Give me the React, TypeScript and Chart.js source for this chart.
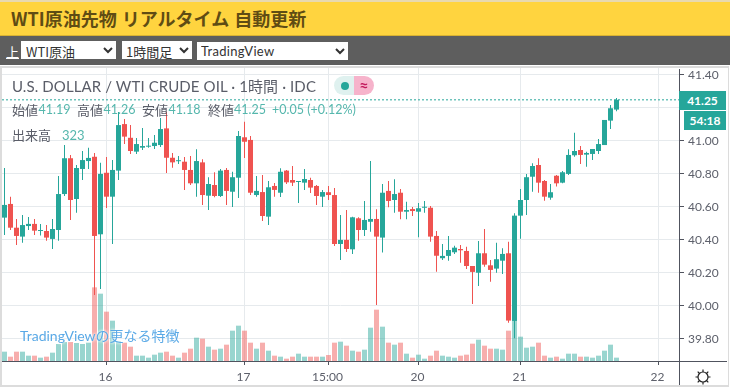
import React, { useEffect, useRef } from "react";
import { Chart, registerables } from "chart.js";

Chart.register(...registerables);

const opens = [
  40.531, 40.614, 40.470, 40.416, 40.480, 40.493, 40.450, 40.450, 40.402, 40.456,
  40.674, 40.891, 40.644, 40.826, 40.874, 40.900, 40.430, 40.803, 40.658, 40.816,
  41.098, 41.015, 40.931, 40.955, 40.961, 40.965, 40.971, 41.072, 40.894, 40.873,
  40.870, 40.820, 40.739, 40.866, 40.664, 40.729, 40.662, 40.820, 40.688, 40.773,
  41.018, 41.002, 40.668, 40.686, 40.537, 40.723, 40.682, 40.816, 40.759, 40.747,
  40.743, 40.759, 40.723, 40.658, 40.685, 40.668, 40.371, 40.396, 40.339, 40.527,
  40.456, 40.506, 40.523, 40.410, 40.693, 40.638, 40.682, 40.567, 40.583, 40.567,
  40.591, 40.591, 40.420, 40.285, 40.299, 40.321, 40.341, 40.329, 40.238, 40.197,
  40.315, 40.242, 40.222, 40.270, 40.315, 39.905, 40.543, 40.638, 40.779, 40.850,
  40.753, 40.652, 40.785, 40.743, 40.796, 40.909, 40.941, 40.913, 40.917, 40.935,
  40.971, 41.119, 41.186,
];
const closes = [
  40.608, 40.470, 40.420, 40.486, 40.493, 40.452, 40.456, 40.410, 40.462, 40.674,
  40.891, 40.638, 40.832, 40.880, 40.893, 40.420, 40.796, 40.658, 40.820, 41.092,
  41.022, 40.935, 40.977, 40.965, 40.967, 40.985, 41.068, 40.894, 40.866, 40.876,
  40.820, 40.739, 40.874, 40.668, 40.735, 40.662, 40.816, 40.693, 40.776, 41.026,
  40.991, 40.682, 40.693, 40.541, 40.715, 40.699, 40.809, 40.745, 40.743, 40.753,
  40.765, 40.713, 40.662, 40.686, 40.668, 40.371, 40.396, 40.341, 40.533, 40.456,
  40.517, 40.523, 40.416, 40.682, 40.632, 40.674, 40.567, 40.577, 40.571, 40.588,
  40.597, 40.416, 40.300, 40.299, 40.335, 40.349, 40.333, 40.238, 40.202, 40.315,
  40.246, 40.214, 40.279, 40.311, 39.907, 40.543, 40.638, 40.776, 40.844, 40.743,
  40.658, 40.685, 40.739, 40.806, 40.911, 40.935, 40.911, 40.923, 40.947, 40.977,
  41.123, 41.194, 41.245,
];
const highs = [
  40.832, 40.658, 40.523, 40.547, 40.535, 40.523, 40.493, 40.486, 40.523, 40.783,
  40.971, 40.911, 40.850, 40.935, 40.955, 40.923, 40.864, 40.899, 40.880, 41.171,
  41.129, 41.092, 41.014, 41.074, 41.014, 41.032, 41.135, 41.173, 40.923, 40.905,
  40.899, 40.905, 40.945, 40.885, 40.776, 40.806, 40.826, 40.832, 40.809, 41.056,
  41.112, 41.026, 40.783, 40.789, 40.753, 40.741, 40.830, 40.820, 40.844, 40.753,
  40.826, 40.773, 40.729, 40.699, 40.723, 40.711, 40.547, 40.577, 40.537, 40.533,
  40.632, 40.874, 40.582, 40.735, 40.753, 40.763, 40.705, 40.628, 40.596, 40.620,
  40.632, 40.602, 40.450, 40.371, 40.420, 40.361, 40.365, 40.355, 40.238, 40.389,
  40.462, 40.274, 40.379, 40.345, 40.385, 40.557, 40.705, 40.795, 40.860, 40.891,
  40.759, 40.735, 40.789, 40.814, 40.945, 41.046, 40.965, 40.931, 40.947, 41.008,
  41.123, 41.214, 41.256,
];
const lows = [
  40.426, 40.456, 40.365, 40.379, 40.456, 40.426, 40.422, 40.391, 40.341, 40.391,
  40.662, 40.517, 40.561, 40.759, 40.826, 40.062, 40.099, 40.590, 40.371, 40.759,
  40.977, 40.917, 40.917, 40.941, 40.955, 40.947, 40.959, 40.802, 40.834, 40.856,
  40.699, 40.729, 40.658, 40.608, 40.577, 40.654, 40.656, 40.608, 40.596, 40.650,
  40.893, 40.668, 40.658, 40.511, 40.486, 40.658, 40.656, 40.735, 40.723, 40.620,
  40.699, 40.680, 40.608, 40.596, 40.638, 40.359, 40.274, 40.323, 40.311, 40.391,
  40.420, 40.446, 40.002, 40.319, 40.594, 40.561, 40.521, 40.521, 40.541, 40.412,
  40.561, 40.385, 40.203, 40.274, 40.270, 40.311, 40.258, 40.220, 40.008, 40.117,
  40.234, 40.143, 40.197, 40.189, 39.894, 39.800, 40.403, 40.547, 40.688, 40.682,
  40.634, 40.640, 40.719, 40.739, 40.789, 40.900, 40.856, 40.840, 40.880, 40.917,
  40.971, 41.068, 41.176,
];
const volumes = [
  896, 416, 896, 896, 512, 512, 320, 416, 800, 1632,
  1824, 1824, 1728, 1632, 1760, 7072, 6464, 4736, 3872, 1888,
  1760, 1376, 512, 512, 320, 608, 800, 896, 512, 320,
  800, 1184, 2240, 2144, 1376, 1088, 1184, 1568, 2912, 3392,
  2912, 1760, 1184, 1760, 992, 512, 416, 224, 416, 704,
  416, 416, 416, 416, 576, 1760, 1856, 1472, 992, 896,
  1088, 3200, 4928, 3296, 1760, 1568, 1760, 704, 320, 608,
  224, 512, 992, 512, 416, 320, 512, 608, 1664, 2048,
  1472, 1184, 1184, 1088, 2912, 4000, 2336, 1280, 1376, 1760,
  512, 320, 416, 224, 704, 704, 416, 416, 320, 512,
  992, 1568, 323,
];

const xTickIndexes = [17, 40, 54, 69, 86, 109];
const xTickLabels = ["16", "17", "15:00", "20", "21", "22"];
const hiddenPriceTicks = ["41.20"];

const TEAL = "#26a69a";
const RED = "#ef5350";
const TEAL_SOFT = "rgba(38,166,154,0.47)";
const RED_SOFT = "rgba(239,83,80,0.47)";
const GRID = "#e6eaed";
const AXIS = "#50535e";
const LABEL = "#5d606b";
const UI_FONT = '"Lato", "Noto Sans CJK JP", sans-serif';
const CJK_FONT = '"Noto Sans CJK JP", sans-serif';

const indexes = opens.map((_, i) => i);
const isUp = (i: number) => closes[i] >= opens[i];
const X_MIN = -0.4167;
const X_MAX = 112.4167;

const pos = (left: number, top: number, extra: React.CSSProperties = {}): React.CSSProperties => ({
  position: "absolute",
  left,
  top,
  whiteSpace: "nowrap",
  ...extra,
});

export default function App() {
  const ref = useRef<HTMLCanvasElement | null>(null);

  useEffect(() => {
    document.body.style.margin = "0";
    document.body.style.overflow = "hidden";
    const canvas = ref.current;
    if (!canvas) return;
    const last = closes[closes.length - 1];
    const chart = new Chart(canvas, {
      type: "bar",
      data: {
        datasets: [
          {
            type: "line",
            data: [
              { x: X_MIN, y: last },
              { x: X_MAX, y: last },
            ],
            borderColor: TEAL,
            borderWidth: 1,
            borderDash: [2, 2],
            pointRadius: 0,
            order: 1,
          },
          {
            data: indexes.map((i) => ({ x: i, y: [opens[i], closes[i]] })),
            backgroundColor: indexes.map((i) => (isUp(i) ? TEAL : RED)),
            barThickness: 5,
            grouped: false,
            minBarLength: 1,
            inflateAmount: 0,
            order: 2,
          },
          {
            data: indexes.map((i) => ({ x: i, y: [lows[i], highs[i]] })),
            backgroundColor: indexes.map((i) => (isUp(i) ? TEAL : RED)),
            barThickness: 1,
            grouped: false,
            inflateAmount: 0,
            order: 3,
          },
          {
            data: indexes.map((i) => ({ x: i, y: volumes[i] })),
            backgroundColor: indexes.map((i) => (isUp(i) ? TEAL_SOFT : RED_SOFT)),
            barThickness: 5,
            grouped: false,
            inflateAmount: 0,
            yAxisID: "vol",
            order: 4,
          },
        ],
      } as any,
      options: {
        responsive: false,
        animation: false,
        devicePixelRatio: 1,
        events: [],
        layout: { padding: { top: 68, left: 2, right: 0, bottom: 0 } },
        plugins: { legend: { display: false }, tooltip: { enabled: false } },
        scales: {
          x: {
            type: "linear",
            min: X_MIN,
            max: X_MAX,
            offset: false,
            afterBuildTicks: (s: any) => {
              s.ticks = xTickIndexes.map((v) => ({ value: v }));
            },
            afterFit: (s: any) => {
              s.height = 28;
            },
            grid: { color: GRID, offset: false, tickColor: AXIS, tickLength: 4 },
            border: { display: false },
            ticks: {
              autoSkip: false,
              maxRotation: 0,
              padding: 5,
              labelOffset: -1,
              color: LABEL,
              font: { family: UI_FONT, size: 12 },
              callback: (v: any) => {
                const k = xTickIndexes.indexOf(Number(v));
                return k >= 0 ? xTickLabels[k] : "";
              },
            },
          },
          y: {
            position: "right",
            min: 39.662,
            max: 41.438,
            afterFit: (s: any) => {
              s.width = 51;
            },
            grid: { color: GRID, tickColor: AXIS, tickLength: 5 },
            border: { display: false },
            ticks: {
              stepSize: 0.2,
              includeBounds: false,
              padding: 4,
              labelOffset: 1,
              color: LABEL,
              font: { family: UI_FONT, size: 12 },
              callback: (v: any) => {
                const t = Number(v).toFixed(2);
                return hiddenPriceTicks.includes(t) ? "" : t;
              },
            },
          },
          vol: { display: false, min: 0, max: 28128 },
        },
      },
    } as any);
    return () => chart.destroy();
  }, []);

  const label: React.CSSProperties = { color: "#5a5d68", fontFamily: UI_FONT };
  const cjkLabel = (left: number, text: string) => (
    <div style={pos(left, 101, { color: "#5a5d68", fontFamily: CJK_FONT, fontSize: 13, lineHeight: "18px" })}>{text}</div>
  );
  const valueText = (left: number, text: string) => (
    <div style={pos(left, 101, { color: "#55b7ad", fontFamily: UI_FONT, fontSize: 12.5, lineHeight: "18px" })}>{text}</div>
  );

  return (
    <div style={{ position: "relative", width: 730, height: 389, overflow: "hidden", background: "#fff", fontFamily: UI_FONT }}>
      <div style={pos(0, 0, { width: 730, height: 36, background: "#ffd43f", borderTop: "2px solid #e8d9b0", boxSizing: "border-box", borderBottom: "1px solid #d9b233" })} />
      <div style={pos(11, 6, { fontSize: 18, lineHeight: "24px", fontWeight: 700, color: "#5f4c14", fontFamily: CJK_FONT, wordSpacing: 1 })}>
        WTI原油先物 リアルタイム 自動更新
      </div>
      <div style={pos(0, 36, { width: 730, height: 29, background: "#5e5e5e" })} />
      <div style={pos(6, 43, { color: "#fff", fontSize: 13, textDecoration: "underline", fontFamily: CJK_FONT, lineHeight: "18px" })}>上</div>
      <select defaultValue="a" style={pos(21, 41, { width: 95, height: 18, border: "none", background: "#fff", color: "#333", fontSize: 13, fontFamily: CJK_FONT, padding: "0 0 0 1px" })}>
        <option value="a">WTI原油</option>
      </select>
      <select defaultValue="a" style={pos(122, 41, { width: 70, height: 18, border: "none", background: "#fff", color: "#333", fontSize: 13, fontFamily: CJK_FONT, padding: 0 })}>
        <option value="a">1時間足</option>
      </select>
      <select defaultValue="a" style={pos(197, 42, { width: 151, height: 18, border: "none", background: "#fff", color: "#333", fontSize: 13, letterSpacing: 0.3, fontFamily: UI_FONT, padding: 0 })}>
        <option value="a">TradingView</option>
      </select>

      <canvas ref={ref} width={730} height={389} style={{ position: "absolute", left: 0, top: 0, display: "block" }} />

      <div style={pos(0, 66, { width: 729, height: 321, border: "2px solid #dcdcdc", borderRight: "1px solid #dcdcdc", boxSizing: "border-box", pointerEvents: "none" })} />
      <div style={pos(2, 361, { width: 725, height: 1, background: AXIS })} />
      <div style={pos(679, 69, { width: 1, height: 316, background: AXIS })} />

      <div style={pos(12, 76, { ...label, fontSize: 15, lineHeight: "20px", letterSpacing: 0.1 })}>U.S. DOLLAR / WTI CRUDE OIL · 1時間 · IDC</div>
      <div style={pos(334, 76, { width: 20, height: 19, background: "#dff1ef", borderRadius: "10px 0 0 10px" })} />
      <div style={pos(341, 82, { width: 8, height: 8, background: TEAL, borderRadius: 4 })} />
      <div style={pos(354, 76, { width: 20, height: 19, background: "#f6b3cb", borderRadius: "0 10px 10px 0", color: "#c2185b", fontSize: 16, fontWeight: 700, lineHeight: "18px", textAlign: "center" })}>≈</div>

      {cjkLabel(12, "始値")}
      {valueText(38.5, "41.19")}
      {cjkLabel(77, "高値")}
      {valueText(103.5, "41.26")}
      {cjkLabel(142, "安値")}
      {valueText(168.5, "41.18")}
      {cjkLabel(208, "終値")}
      {valueText(234, "41.25")}
      {valueText(272, "+0.05 (+0.12%)")}

      <div style={pos(12, 126, { color: "#5a5d68", fontFamily: CJK_FONT, fontSize: 13, lineHeight: "18px" })}>出来高</div>
      <div style={pos(62, 126, { color: "#55b7ad", fontFamily: UI_FONT, fontSize: 13, lineHeight: "18px" })}>323</div>

      <div style={pos(20, 327, { fontSize: 14, lineHeight: "18px", color: "#5aa9e6", textShadow: "0 0 3px #fff, 0 0 3px #fff" })}>TradingViewの更なる特徴</div>

      <div style={pos(679, 91, { width: 47, height: 19, background: TEAL, color: "#fff", fontSize: 12, fontWeight: 700, lineHeight: "19px", textAlign: "center" })}>41.25</div>
      <div style={pos(684, 111, { width: 42, height: 19, background: TEAL, color: "#fff", fontSize: 12, fontWeight: 700, lineHeight: "19px", textAlign: "center" })}>54:18</div>

      <svg width="18" height="18" viewBox="0 0 18 18" style={pos(694, 368)}>
        <circle cx="9" cy="9" r="5" fill="none" stroke="#222" strokeWidth="1.2" />
        <path d="M9 1.5V4M9 14v2.5M1.5 9H4M14 9h2.5M3.7 3.7l1.8 1.8M12.5 12.5l1.8 1.8M3.7 14.3l1.8-1.8M12.5 5.5l1.8-1.8" stroke="#222" strokeWidth="1.2" />
      </svg>
    </div>
  );
}
